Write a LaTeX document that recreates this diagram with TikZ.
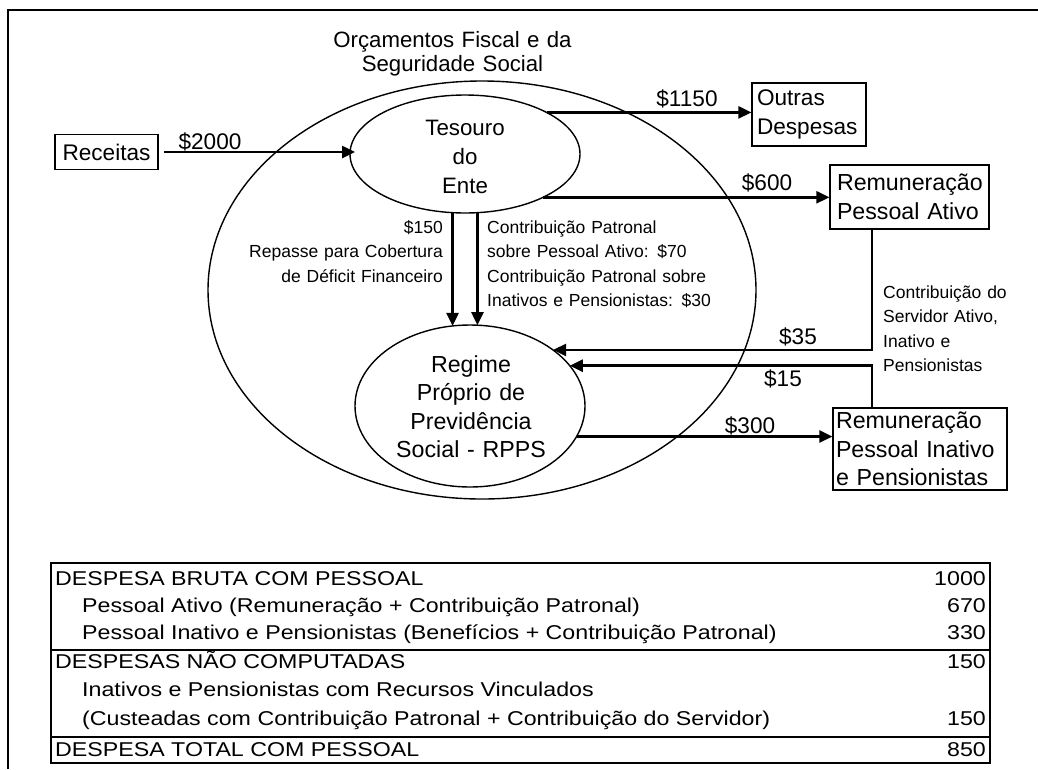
\documentclass[tikz,border=0pt]{standalone}
\usepackage{fontspec}
\setmainfont{Liberation Sans}
\newfontfamily\tabfamily[FakeStretch=1.16]{Liberation Sans}
\usetikzlibrary{arrows.meta,shapes.geometric}
\newcommand\FMain{\fontsize{22.6}{28.6}\selectfont}
\newcommand\FBox{\fontsize{23.2}{28.6}\selectfont}
\newcommand\FTes{\fontsize{22.3}{29}\selectfont}
\newcommand\FOrc{\fontsize{22.2}{24}\selectfont}
\newcommand\FSmall{\fontsize{17.5}{24.5}\selectfont}
\newcommand\FTab{\tabfamily\fontsize{20}{24}\selectfont}
\begin{document}
\begin{tikzpicture}[x=1pt,y=-1pt,
  flow/.style={line width=2.5pt,-{Triangle[length=13pt,width=12pt]}},
  boxnode/.style={draw,line width=1.3pt,inner ysep=0pt,align=left,font=\FBox},
  oval/.style={draw,ellipse,line width=1.4pt,inner sep=0pt,outer sep=0pt},
  txt/.style={inner sep=0pt,font=\FMain},
  lbl/.style={inner sep=0pt,font=\FSmall},
  tab/.style={inner sep=0pt,font=\FTab},
  rule/.style={line width=2.8pt},
]
\useasboundingbox (0,0) rectangle (1038,769);
% frame
\draw[line width=2pt] (7.5,769) -- (7.5,9.5) -- (1038,9.5);

% ellipses
\node[oval,minimum width=548,minimum height=418] (orc) at (482,290) {};
\node[oval,minimum width=230,minimum height=118] (tes) at (465,154) {};
\node[oval,minimum width=230,minimum height=162] (rpps) at (470,406) {};

\node[txt,text width=160,align=center,anchor=base,font=\FTes] (testxt) at (465,135) {Tesouro\\do\\Ente};
\node[txt,text width=220,align=center,anchor=base,font=\FBox] (rppstxt) at (471,372) {Regime\\Próprio de\\Previdência\\Social - RPPS};
\node[txt,text width=300,align=center,anchor=base,font=\FOrc] (orctxt) at (452.5,47.7) {Orçamentos Fiscal e da\\Seguridade Social};

% boxes
\node[boxnode,align=center,minimum width=103,minimum height=35,inner xsep=0pt,font=\FMain] (rec) at (106.5,152) {Receitas};
\node[boxnode,text width=104,inner xsep=5pt,minimum height=63,font=\FMain] (outras) at (809,114.5) {Outras\\Despesas};
\node[boxnode,text width=145,inner xsep=7pt,minimum height=64] (ativo) at (909.5,197) {Remuneração\\Pessoal Ativo};
\node[boxnode,text width=168,inner xsep=3pt,minimum height=82] (inat) at (920,449) {Remuneração\\Pessoal Inativo\\e Pensionistas};

% connectors
\draw[flow] ([xshift=5pt]rec.east) -- ([xshift=5pt]rec.east -| tes.west);
\draw[flow] (tes.27.5) -- (tes.27.5 -| outras.west);
\draw[flow] (tes.-29.9) -- (tes.-29.9 -| ativo.west);
\draw[flow] (tes.-102.5) -- (tes.-102.5 |- rpps.102.7);
\draw[flow] (tes.-78.4) -- (tes.-78.4 |- rpps.85.05);
\draw[flow] ([xshift=-37.5pt]ativo.south) |- (rpps.34.9);
\draw[flow] ([xshift=-48pt]inat.north) |- (rpps.22.5);
\draw[flow] (rpps.-16.9) -- (rpps.-16.9 -| inat.west);

% labels
\node[txt,anchor=base] (l2000) at (210,149) {\$2000};
\node[txt,anchor=base] (l1150) at (687,106.7) {\$1150};
\node[txt,anchor=base] (l600) at (767,190) {\$600};
\node[txt,anchor=base] (l35) at (798,344) {\$35};
\node[txt,anchor=base] (l15) at (783,386.7) {\$15};
\node[txt,anchor=base] (l300) at (750,433) {\$300};

\node[lbl,text width=200,align=right,anchor=base east] (l150) at (443,233) {\$150\\Repasse para Cobertura\\de Déficit Financeiro};
\node[lbl,text width=240,align=left,anchor=base west] (lpat) at (487,233) {Contribuição Patronal\\sobre Pessoal Ativo: \$70\\Contribuição Patronal sobre\\Inativos e Pensionistas: \$30};
\node[lbl,text width=150,align=left,anchor=base west] (lserv) at (883,298) {Contribuição do\\Servidor Ativo,\\Inativo e\\Pensionistas};

% table
\draw[rule] (51,563) rectangle (990,763);
\draw[rule] (51,650) -- (990,650);
\draw[rule] (51,737) -- (990,737);

\node[tab,anchor=base west] (r1) at (55,585.7) {DESPESA BRUTA COM PESSOAL};
\node[tab,anchor=base east] (v1) at (986,585.7) {1000};
\node[tab,anchor=base west] (r2) at (82,612) {Pessoal Ativo (Remuneração + Contribuição Patronal)};
\node[tab,anchor=base east] (v2) at (986,612) {670};
\node[tab,anchor=base west] (r3) at (82,639) {Pessoal Inativo e Pensionistas (Benefícios + Contribuição Patronal)};
\node[tab,anchor=base east] (v3) at (986,639) {330};
\node[tab,anchor=base west] (r4) at (55,668) {DESPESAS NÃO COMPUTADAS};
\node[tab,anchor=base east] (v4) at (986,668) {150};
\node[tab,anchor=base west] (r5) at (82,696.7) {Inativos e Pensionistas com Recursos Vinculados};
\node[tab,anchor=base west] (r6) at (82,725) {(Custeadas com Contribuição Patronal + Contribuição do Servidor)};
\node[tab,anchor=base east] (v6) at (986,725) {150};
\node[tab,anchor=base west] (r7) at (55,756.7) {DESPESA TOTAL COM PESSOAL};
\node[tab,anchor=base east] (v7) at (986,756.7) {850};
\end{tikzpicture}
\end{document}
